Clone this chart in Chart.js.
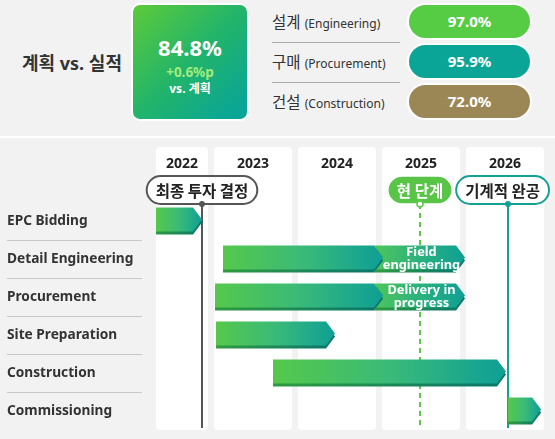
<!DOCTYPE html>
<html>
<head>
<meta charset="utf-8">
<script src="https://cdn.jsdelivr.net/npm/chart.js@4"></script>
<style>
  html, body { margin:0; padding:0; background:#f2f2f2; width:555px; height:439px; overflow:hidden;
    font-family:"Noto Sans","Noto Sans CJK KR",sans-serif; color:#333; }
  #topSec { position:absolute; left:0; top:0; width:555px; height:136px; }
  #sep { position:absolute; left:0; top:136px; width:555px; height:2px; background:#fff; }
  #title { position:absolute; left:22px; top:49px; font-size:18px; font-weight:700; color:#333; white-space:nowrap; }
  #kpi { position:absolute; left:131px; top:3px; width:114px; height:114px; border:2px solid #fff; border-radius:9px;
    background:linear-gradient(135deg,#5dca3a 0%,#22b46a 50%,#05a39f 100%); color:#fff; text-align:center; }
  #kpiVal { position:absolute; left:0; width:100%; top:29px; font-size:22px; font-weight:700; line-height:26px; }
  #kpiDelta { position:absolute; left:0; width:100%; top:59px; font-size:13.5px; font-weight:700; color:#a3ea7c; line-height:17px; }
  #kpiSub { position:absolute; left:0; width:100%; top:76px; font-size:12px; font-weight:700; line-height:15px; }
  .row { position:absolute; left:272px; white-space:nowrap; }
  .ko { font-size:15.5px; }
  .en { font-size:12px; }
  .rsep { position:absolute; left:272px; width:128px; height:1px; background:#aaa; }
  .pill { position:absolute; left:407px; width:121px; height:33px; border:2px solid #fff; border-radius:19px;
    color:#fff; font-weight:700; font-size:15px; text-align:center; line-height:33px; }
  #wrap { position:absolute; left:0; top:140px; width:555px; height:299px; }
</style>
</head>
<body>
<div id="topSec"></div>
<div id="sep"></div>
<div id="wrap"><canvas id="c" width="555" height="299"></canvas></div>
<script>
// ---------- data ----------
const headerTitle = '계획 vs. 실적';
const overallValue = '84.8%';
const overallDelta = '+0.6%p';
const overallSub = 'vs. 계획';
const phaseKo = ['설계', '구매', '건설'];
const phaseEn = ['(Engineering)', '(Procurement)', '(Construction)'];
const phaseValues = [97.0, 95.9, 72.0];
const phaseColors = ['#55cc44', '#0aa596', '#9a8755'];

const tasks = ['EPC Bidding', 'Detail Engineering', 'Procurement', 'Site Preparation', 'Construction', 'Commissioning'];
const taskStart = [2022.345, 2023.143, 2023.048, 2023.06, 2023.738, 2026.536];
const taskEnd   = [2022.893, 2025.048, 2025.048, 2024.476, 2026.512, 2026.93];
const phaseStart = [null, 2024.94, 2024.94, null, null, null];
const phaseEnd   = [null, 2026.024, 2026.024, null, null, null];
const phaseText  = [null, ['Field', 'engineering'], ['Delivery in', 'progress'], null, null, null];

const yearLabels = ['2022', '2023', '2024', '2025', '2026'];
const yearStarts = [2022, 2023, 2024, 2025, 2026];
const axisMin = 2022.345, axisMax = 2027;

const milestoneLabels = ['최종 투자 결정', '현 단계', '기계적 완공'];
const milestoneDates = [2022.893, 2025.488, 2026.536];
const milestoneStyles = ['outline-dark', 'filled-green', 'outline-teal'];

// ---------- top section (HTML) ----------
const topEl = document.getElementById('topSec');
topEl.innerHTML = `<div id="title">${headerTitle}</div>
<div id="kpi"><div id="kpiVal">${overallValue}</div><div id="kpiDelta">${overallDelta}</div><div id="kpiSub">${overallSub}</div></div>`;
const rowCenters = [22, 62, 102];
phaseKo.forEach((k, i) => {
  const r = document.createElement('div');
  r.className = 'row';
  r.style.top = (rowCenters[i] - 12) + 'px';
  r.innerHTML = `<span class="ko">${k}</span> <span class="en">${phaseEn[i]}</span>`;
  topEl.appendChild(r);
  const p = document.createElement('div');
  p.className = 'pill';
  p.style.top = (rowCenters[i] - 19) + 'px';
  p.style.background = phaseColors[i];
  p.textContent = phaseValues[i].toFixed(1) + '%';
  topEl.appendChild(p);
  if (i < 2) {
    const s = document.createElement('div');
    s.className = 'rsep';
    s.style.top = (i === 0 ? 42 : 82) + 'px';
    topEl.appendChild(s);
  }
});

// ---------- gantt (Chart.js) ----------
const FONT = '"Noto Sans", "Noto Sans CJK KR", sans-serif';
const FONT_KR = '"Noto Sans CJK KR", "Noto Sans", sans-serif';

function roundRect(ctx, x, y, w, h, r) {
  ctx.beginPath();
  ctx.moveTo(x + r, y);
  ctx.lineTo(x + w - r, y);
  ctx.arcTo(x + w, y, x + w, y + r, r);
  ctx.lineTo(x + w, y + h - r);
  ctx.arcTo(x + w, y + h, x + w - r, y + h, r);
  ctx.lineTo(x + r, y + h);
  ctx.arcTo(x, y + h, x, y + h - r, r);
  ctx.lineTo(x, y + r);
  ctx.arcTo(x, y, x + r, y, r);
  ctx.closePath();
}
function chevron(ctx, x0, x1, t, b, tip, notch) {
  const m = (t + b) / 2;
  ctx.beginPath();
  ctx.moveTo(x0, t);
  ctx.lineTo(x1 - tip, t);
  ctx.lineTo(x1, m);
  ctx.lineTo(x1 - tip, b);
  ctx.lineTo(x0, b);
  if (notch) ctx.lineTo(x0 + tip, m);
  ctx.closePath();
}

const ganttPlugin = {
  id: 'gantt',
  beforeDatasetsDraw(chart) {
    const { ctx, chartArea: ca, scales: { x, y } } = chart;
    const panelTop = ca.top - 55;
    ctx.save();
    yearLabels.forEach((lab, i) => {
      const s = yearStarts[i];
      let p0 = x.getPixelForValue(Math.max(s, axisMin));
      let p1 = x.getPixelForValue(Math.min(s + 1, axisMax));
      if (s > axisMin) p0 += 3;
      p1 -= 3;
      ctx.fillStyle = '#ffffff';
      roundRect(ctx, p0, panelTop, p1 - p0, ca.bottom - panelTop, 4);
      ctx.fill();
      ctx.fillStyle = '#222';
      ctx.font = 'bold 14px ' + FONT;
      ctx.textAlign = 'center';
      ctx.textBaseline = 'middle';
      ctx.fillText(lab, (p0 + p1) / 2, panelTop + 17);
    });
    ctx.strokeStyle = '#c8c8c8';
    ctx.lineWidth = 1;
    for (let i = 0; i < tasks.length - 1; i++) {
      const yy = Math.round((y.getPixelForValue(i) + y.getPixelForValue(i + 1)) / 2) + 0.5;
      ctx.beginPath();
      ctx.moveTo(7, yy);
      ctx.lineTo(142, yy);
      ctx.stroke();
    }
    milestoneDates.forEach((d, i) => {
      const px = Math.round(x.getPixelForValue(d));
      const st = milestoneStyles[i];
      ctx.beginPath();
      ctx.lineWidth = 2;
      if (st === 'outline-dark') { ctx.strokeStyle = '#555'; ctx.setLineDash([]); }
      else if (st === 'filled-green') { ctx.strokeStyle = '#5cc84a'; ctx.setLineDash([5, 4]); }
      else { ctx.strokeStyle = '#14a094'; ctx.setLineDash([]); }
      ctx.moveTo(px, ca.top + 2);
      ctx.lineTo(px, ca.bottom - 2);
      ctx.stroke();
      ctx.setLineDash([]);
    });
    ctx.restore();
  },
  afterDatasetDraw(chart, args) {
    const { ctx } = chart;
    const meta = args.meta;
    const isPhase = args.index === 1;
    ctx.save();
    meta.data.forEach((el, i) => {
      const raw = chart.data.datasets[args.index].data[i];
      if (!raw) return;
      const x0 = Math.min(el.x, el.base), x1 = Math.max(el.x, el.base);
      const top = el.y - el.height / 2;
      const bodyH = el.height - 3;
      const tip = 9;
      const sg = ctx.createLinearGradient(x0, 0, x1, 0);
      sg.addColorStop(0, '#2f9a40');
      sg.addColorStop(1, '#08766d');
      ctx.fillStyle = sg;
      chevron(ctx, x0, x1, top + 3, top + 3 + bodyH, tip, isPhase);
      ctx.fill();
      const g = ctx.createLinearGradient(x0, 0, x1, 0);
      if (isPhase) {
        g.addColorStop(0, '#4ec55a');
        g.addColorStop(0.5, '#2bb27d');
        g.addColorStop(1, '#0f9f95');
      } else {
        g.addColorStop(0, '#55c84b');
        g.addColorStop(0.5, '#3aba78');
        g.addColorStop(1, '#0e9f96');
      }
      ctx.fillStyle = g;
      chevron(ctx, x0, x1, top, top + bodyH, tip, isPhase);
      ctx.fill();
      if (isPhase && phaseText[i]) {
        ctx.fillStyle = '#fff';
        ctx.font = 'bold 12.8px ' + FONT;
        ctx.textAlign = 'center';
        ctx.textBaseline = 'middle';
        const cx = (x0 + x1) / 2 + 2;
        const cy = top + bodyH / 2 + 1.5;
        ctx.fillText(phaseText[i][0], cx, cy - 6.5);
        ctx.fillText(phaseText[i][1], cx, cy + 6.5);
      }
    });
    ctx.restore();
  },
  afterDatasetsDraw(chart) {
    const { ctx, chartArea: ca, scales: { x } } = chart;
    ctx.save();
    milestoneLabels.forEach((lab, i) => {
      const px = Math.round(x.getPixelForValue(milestoneDates[i]));
      const st = milestoneStyles[i];
      ctx.font = 'bold 15.5px ' + FONT_KR;
      const w = ctx.measureText(lab).width + 18;
      const h = 28;
      let cx = px;
      if (cx + w / 2 > chart.width - 6) cx = chart.width - 6 - w / 2;
      const cy = ca.top - 12;
      roundRect(ctx, cx - w / 2, cy - h / 2, w, h, h / 2);
      if (st === 'filled-green') {
        ctx.fillStyle = '#58c546';
        ctx.fill();
        ctx.strokeStyle = '#ffffff';
        ctx.lineWidth = 1.5;
        ctx.stroke();
      } else {
        ctx.fillStyle = '#ffffff';
        ctx.fill();
        ctx.strokeStyle = st === 'outline-dark' ? '#555' : '#14a094';
        ctx.lineWidth = 2;
        ctx.stroke();
      }
      ctx.fillStyle = st === 'filled-green' ? '#ffffff' : '#222';
      ctx.textAlign = 'center';
      ctx.textBaseline = 'middle';
      ctx.fillText(lab, cx, cy + 1);
      const dy = cy + h / 2;
      ctx.beginPath();
      ctx.arc(px, dy, 3, 0, Math.PI * 2);
      if (st === 'filled-green') {
        ctx.fillStyle = '#fff'; ctx.fill();
        ctx.strokeStyle = '#5cc84a'; ctx.lineWidth = 1.5; ctx.stroke();
      } else {
        ctx.fillStyle = st === 'outline-dark' ? '#555' : '#14a094';
        ctx.fill();
      }
    });
    ctx.restore();
  }
};

new Chart(document.getElementById('c'), {
  type: 'bar',
  data: {
    labels: tasks,
    datasets: [
      { label: 'Plan', data: tasks.map((_, i) => [taskStart[i], taskEnd[i]]),
        backgroundColor: 'rgba(0,0,0,0)', borderWidth: 0, barThickness: 27, grouped: false },
      { label: 'Current', data: tasks.map((_, i) => phaseStart[i] == null ? null : [phaseStart[i], phaseEnd[i]]),
        backgroundColor: 'rgba(0,0,0,0)', borderWidth: 0, barThickness: 27, grouped: false }
    ]
  },
  options: {
    indexAxis: 'y',
    responsive: false,
    animation: false,
    layout: { padding: { left: 7, right: 8, top: 62, bottom: 9 } },
    plugins: { legend: { display: false }, tooltip: { enabled: false } },
    scales: {
      x: { type: 'linear', min: axisMin, max: axisMax, display: false },
      y: {
        grid: { display: false }, border: { display: false },
        ticks: { crossAlign: 'far', color: '#333', font: { family: FONT, size: 13.7, weight: 'bold' }, padding: 0 },
        afterFit: (axis) => { axis.width = 149; }
      }
    }
  },
  plugins: [ganttPlugin]
});
</script>
</body>
</html>
